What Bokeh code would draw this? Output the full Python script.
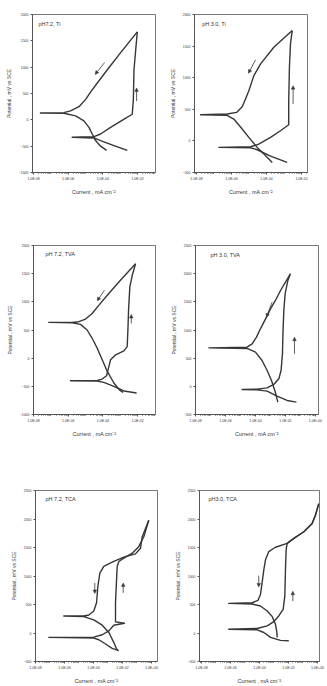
from bokeh.plotting import figure
from bokeh.layouts import column, row
from bokeh.models import Range1d, FixedTicker, CustomJSTickFormatter, Label, Arrow, NormalHead
from bokeh.embed import file_html
from bokeh.resources import INLINE

# ---------------- data (current mA cm^-2, potential mV vs SCE) ----------------
# pH 7.2, Ti
ti72_fwd_i = [2.6e-3, 4.4e-4, 7.4e-5, 3.1e-5, 1.7e-6, 3.1e-5, 7.4e-5, 2.8e-4, 1.7e-3, 5.0e-3, 5.8e-3, 6.3e-3, 7.9e-3, 9.8e-3]
ti72_fwd_e = [-581, -488, -394, -344, -331, -319, -269, -144, 13, 106, 388, 950, 1325, 1669]
ti72_rev_i = [9.8e-3, 1.07e-3, 1.82e-4, 4.8e-5, 1.95e-5, 1.02e-5, 4.2e-6, 1.38e-6, 5.6e-7, 2.5e-8, 5.6e-7, 2.7e-6, 8.1e-6, 1.58e-5, 2.45e-5, 3.8e-5, 7.4e-5, 1.66e-4]
ti72_rev_e = [1669, 1275, 950, 700, 525, 388, 250, 169, 137, 131, 125, 75, -19, -144, -269, -394, -500, -581]
ti72_arrows = [(1.26e-4, 1087, 3.6e-5, 862), (8.9e-3, 356, 8.9e-3, 606)]

# pH 3.0, Ti
ti30_fwd_i = [1.51e-3, 1.7e-4, 2.95e-5, 1.23e-5, 1.9e-7, 1.23e-5, 3.6e-5, 1.7e-4, 6.3e-4, 1.86e-3, 1.86e-3, 2.04e-3, 2.34e-3, 2.95e-3]
ti30_fwd_e = [-341, -241, -140, -109, -103, -93, -51, 55, 161, 256, 636, 1165, 1535, 1746]
ti30_rev_i = [2.95e-3, 2.63e-4, 4.6e-5, 1.9e-5, 9.8e-6, 6.3e-6, 4.1e-6, 1.95e-6, 5.6e-7, 1.7e-8, 5.6e-7, 1.35e-6, 3.2e-6, 9.8e-6, 2.95e-5, 7.1e-5, 2.14e-4]
ti30_rev_e = [1746, 1482, 1218, 1033, 795, 663, 541, 451, 425, 414, 404, 346, 224, 55, -103, -209, -341]
ti30_arrows = [(2.34e-5, 1281, 9.3e-6, 1070), (3.3e-3, 584, 3.3e-3, 874)]

# pH 7.2, TVA
tva72_fwd_i = [8.7e-3, 1.62e-3, 4.3e-4, 1.12e-4, 4.7e-5, 1.35e-6, 4.7e-5, 9.1e-5, 1.62e-4, 2.09e-4, 2.75e-4, 5.4e-4, 1.62e-3, 2.5e-3, 2.75e-3, 3.0e-3, 3.55e-3, 4.9e-3, 7.6e-3]
tva72_fwd_e = [-618, -582, -500, -429, -406, -400, -394, -371, -312, -176, -29, 59, 130, 206, 500, 853, 1265, 1471, 1676]
tva72_rev_i = [7.6e-3, 1.02e-3, 1.78e-4, 5.9e-5, 2.4e-5, 1.0e-5, 4.1e-6, 1.7e-6, 7.6e-8, 1.7e-6, 5.1e-6, 1.23e-5, 2.4e-5, 4.7e-5, 9.1e-5, 1.78e-4, 4.3e-4, 9.5e-4, 1.48e-3]
tva72_rev_e = [1676, 1382, 1118, 941, 794, 694, 647, 635, 635, 629, 600, 500, 353, 176, -29, -235, -441, -571, -606]
tva72_arrows = [(1.23e-4, 1206, 4.7e-5, 1018), (4.3e-3, 618, 4.3e-3, 777)]

# pH 3.0, TVA
tva30_fwd_i = [5.4e-2, 1.29e-2, 2.75e-3, 6.0e-4, 1.29e-4, 1.29e-5, 1.29e-4, 6.0e-4, 1.66e-3, 3.6e-3, 5.1e-3, 6.3e-3, 6.9e-3, 7.8e-3, 9.5e-3, 1.45e-2, 2.14e-2]
tva30_fwd_e = [-281, -251, -174, -86, -62, -56, -50, -27, 33, 133, 281, 577, 991, 1346, 1642, 1879, 1997]
tva30_rev_i = [2.14e-2, 1.0e-2, 4.7e-3, 2.14e-3, 1.0e-3, 4.7e-4, 2.14e-4, 1.17e-4, 6.0e-5, 2.75e-5, 7.8e-8, 2.75e-5, 1.0e-4, 2.75e-4, 6.0e-4, 1.17e-3, 1.95e-3, 3.1e-3]
tva30_rev_e = [1997, 1849, 1701, 1524, 1376, 1198, 1021, 873, 755, 695, 683, 672, 607, 459, 281, 104, -74, -281]
tva30_arrows = [(1.29e-3, 1494, 5.4e-4, 1228), (4.0e-2, 577, 4.0e-2, 873)]

# pH 7.2, TCA
tca72_fwd_i = [5.6e-3, 1.95e-3, 6.8e-4, 2.34e-4, 1.05e-4, 8.3e-8, 1.05e-4, 4.0e-4, 1.15e-3, 2.5e-3, 1.38e-2, 3.3e-3, 3.3e-3, 3.9e-3, 4.3e-3, 5.6e-3, 9.5e-3, 4.7e-2, 1.32e-1, 2.95e-1, 6.5e-1]
tca72_fwd_e = [-309, -269, -193, -118, -89, -77, -72, -31, 38, 137, 172, 195, 531, 936, 1168, 1255, 1295, 1400, 1515, 1689, 1979]
tca72_rev_i = [6.5e-1, 2.3e-1, 1.74e-1, 7.9e-2, 1.23e-2, 2.5e-3, 5.1e-4, 2.75e-4, 2.0e-4, 1.62e-4, 1.05e-4, 4.8e-5, 2.14e-5, 8.9e-7, 2.14e-5, 1.05e-4, 4.0e-4, 1.15e-3, 2.5e-3, 3.9e-3, 4.8e-3]
tca72_rev_e = [1979, 1689, 1486, 1388, 1330, 1255, 1168, 1052, 820, 531, 386, 316, 299, 299, 287, 229, 137, 9, -164, -280, -298]
tca72_arrows = [(1.23e-4, 878, 1.23e-4, 693), (1.12e-2, 704, 1.12e-2, 878)]

# pH 3.0, TCA
tca30_fwd_i = [1.05e-2, 2.8e-3, 5.8e-4, 2.0e-4, 6.9e-5, 7.6e-7, 6.9e-5, 3.4e-4, 9.8e-4, 2.14e-3, 4.3e-3, 5.6e-3, 6.2e-3, 6.9e-3, 8.1e-3, 2.34e-2, 1.15e-1, 4.3e-1, 7.2e-1, 1.23]
tca30_fwd_e = [-135, -130, -77, 9, 56, 67, 79, 125, 201, 299, 415, 647, 1110, 1457, 1573, 1660, 1776, 1921, 2066, 2268]
tca30_rev_i = [1.23, 7.2e-1, 4.3e-1, 1.15e-1, 2.34e-2, 8.1e-3, 1.26e-3, 4.4e-4, 2.6e-4, 2.0e-4, 1.51e-4, 1.17e-4, 7.8e-5, 3.1e-5, 7.6e-7, 3.1e-5, 1.17e-4, 3.4e-4, 7.6e-4, 1.26e-3, 1.58e-3, 1.66e-3]
tca30_rev_e = [2268, 2066, 1921, 1776, 1660, 1573, 1504, 1428, 1284, 1110, 878, 676, 571, 531, 519, 508, 473, 386, 287, 154, 9, -77]
tca30_arrows = [(8.9e-5, 1006, 8.9e-5, 809), (2.0e-2, 560, 2.0e-2, 733)]

titles = ["pH7.2, Ti", "pH 3.0, Ti", "pH 7.2, TVA", "pH 3.0, TVA", "pH 7.2, TCA", "pH3.0, TCA"]
x_ticks_short = [1e-8, 1e-6, 1e-4, 1e-2]
x_ticks_long = [1e-8, 1e-6, 1e-4, 1e-2, 1e0]
y_ticks_a = [-1000, -500, 0, 500, 1000, 1500, 2000]
y_ticks_b = [-500, 0, 500, 1000, 1500, 2000]
y_ticks_c = [-500, 0, 500, 1000, 1500, 2000, 2500]

# ---------------- styling ----------------
FONT = "Liberation Sans"
INK = "#363636"
minor = [m * 10.0 ** d for d in range(-10, 2) for m in range(1, 10)]

fmt_code = r"""
var s = tick.toExponential(1).toUpperCase();
return s.replace(/E([+-])(\d)$/, function(m, a, b) { return "E" + a + "0" + b; });
"""


def make_panel(title, fi, fe, ri, re_, arrows, xr, yr, xt, yt, geo, tpos):
    w, h, bl, br, bt, bb = geo
    p = figure(width=w, height=h, x_axis_type="log",
               x_range=Range1d(*xr), y_range=Range1d(*yr),
               output_backend="svg", toolbar_location=None,
               min_border_left=bl, min_border_right=br,
               min_border_top=bt, min_border_bottom=bb)
    p.background_fill_color = "white"
    p.border_fill_color = "white"
    p.grid.visible = False
    p.outline_line_color = "#555555"
    p.outline_line_width = 0.8

    p.line(fi, fe, line_color=INK, line_width=1.4, line_join="round")
    p.line(ri, re_, line_color=INK, line_width=1.4, line_join="round")
    for (xs, ys, xe, ye) in arrows:
        p.add_layout(Arrow(x_start=xs, y_start=ys, x_end=xe, y_end=ye,
                           line_color=INK, line_width=0.8,
                           end=NormalHead(size=3.5, line_color=INK, fill_color=INK, line_width=0.5)))

    p.add_layout(Label(x=tpos[0], y=tpos[1], text=title, text_font=FONT,
                       text_font_size="5.5px", text_color=INK, text_baseline="middle"))

    xa = p.xaxis[0]
    xa.ticker = FixedTicker(ticks=xt, minor_ticks=minor)
    xa.formatter = CustomJSTickFormatter(code=fmt_code)
    xa.major_label_text_font = FONT
    xa.major_label_text_font_size = "3.5px"
    xa.major_label_text_color = INK
    xa.major_label_standoff = 2
    xa.major_tick_in = 0
    xa.major_tick_out = 2
    xa.minor_tick_in = 0
    xa.minor_tick_out = 1
    xa.axis_line_color = "#555555"
    xa.major_tick_line_color = "#555555"
    xa.minor_tick_line_color = "#555555"
    xa.axis_label = "Current , mA cm\u207b\u00b2"
    xa.axis_label_text_font = FONT
    xa.axis_label_text_font_size = "5.5px"
    xa.axis_label_text_font_style = "normal"
    xa.axis_label_text_color = INK
    xa.axis_label_standoff = 5

    ya = p.yaxis[0]
    ya.ticker = FixedTicker(ticks=yt)
    ya.major_label_text_font = FONT
    ya.major_label_text_font_size = "3.5px"
    ya.major_label_text_color = INK
    ya.major_label_standoff = 2
    ya.major_tick_in = 0
    ya.major_tick_out = 2
    ya.minor_tick_line_color = None
    ya.axis_line_color = "#555555"
    ya.major_tick_line_color = "#555555"
    ya.axis_label = "Potential , mV vs SCE"
    ya.axis_label_text_font = FONT
    ya.axis_label_text_font_size = "5px"
    ya.axis_label_text_font_style = "normal"
    ya.axis_label_text_color = INK
    ya.axis_label_standoff = 4
    return p


p1 = make_panel(titles[0], ti72_fwd_i, ti72_fwd_e, ti72_rev_i, ti72_rev_e, ti72_arrows,
                (8.7e-9, 0.11), (-1000, 2000), x_ticks_short, y_ticks_a,
                (163, 200, 32, 8, 14, 26), (1.9e-8, 1812))
p2 = make_panel(titles[1], ti30_fwd_i, ti30_fwd_e, ti30_rev_i, ti30_rev_e, ti30_arrows,
                (7.7e-9, 2.2e-2), (-500, 2000), x_ticks_short, y_ticks_b,
                (164, 200, 31, 20, 14, 28), (2.1e-8, 1842))
p3 = make_panel(titles[2], tva72_fwd_i, tva72_fwd_e, tva72_rev_i, tva72_rev_e, tva72_arrows,
                (1.0e-8, 0.107), (-1000, 2000), x_ticks_short, y_ticks_a,
                (163, 240, 33, 8, 45, 25), (4.9e-8, 1841))
p4 = make_panel(titles[3], tva30_fwd_i, tva30_fwd_e, tva30_rev_i, tva30_rev_e, tva30_arrows,
                (1.0e-8, 1.6), (-500, 2500), x_ticks_long, y_ticks_c,
                (164, 240, 32, 9, 45, 26), (1.0e-7, 2335))
p5 = make_panel(titles[4], tca72_fwd_i, tca72_fwd_e, tca72_rev_i, tca72_rev_e, tca72_arrows,
                (1.0e-8, 2.6), (-500, 2500), x_ticks_long, y_ticks_c,
                (163, 246, 35, 6, 50, 23), (4.9e-8, 2344))
p6 = make_panel(titles[5], tca30_fwd_i, tca30_fwd_e, tca30_rev_i, tca30_rev_e, tca30_arrows,
                (7.3e-9, 1.38), (-500, 2500), x_ticks_long, y_ticks_c,
                (164, 246, 36, 8, 50, 23), (3.0e-8, 2344))

layout = column(row(p1, p2, spacing=0), row(p3, p4, spacing=0), row(p5, p6, spacing=0), spacing=0)

open("out.html", "w").write(file_html(layout, INLINE))
